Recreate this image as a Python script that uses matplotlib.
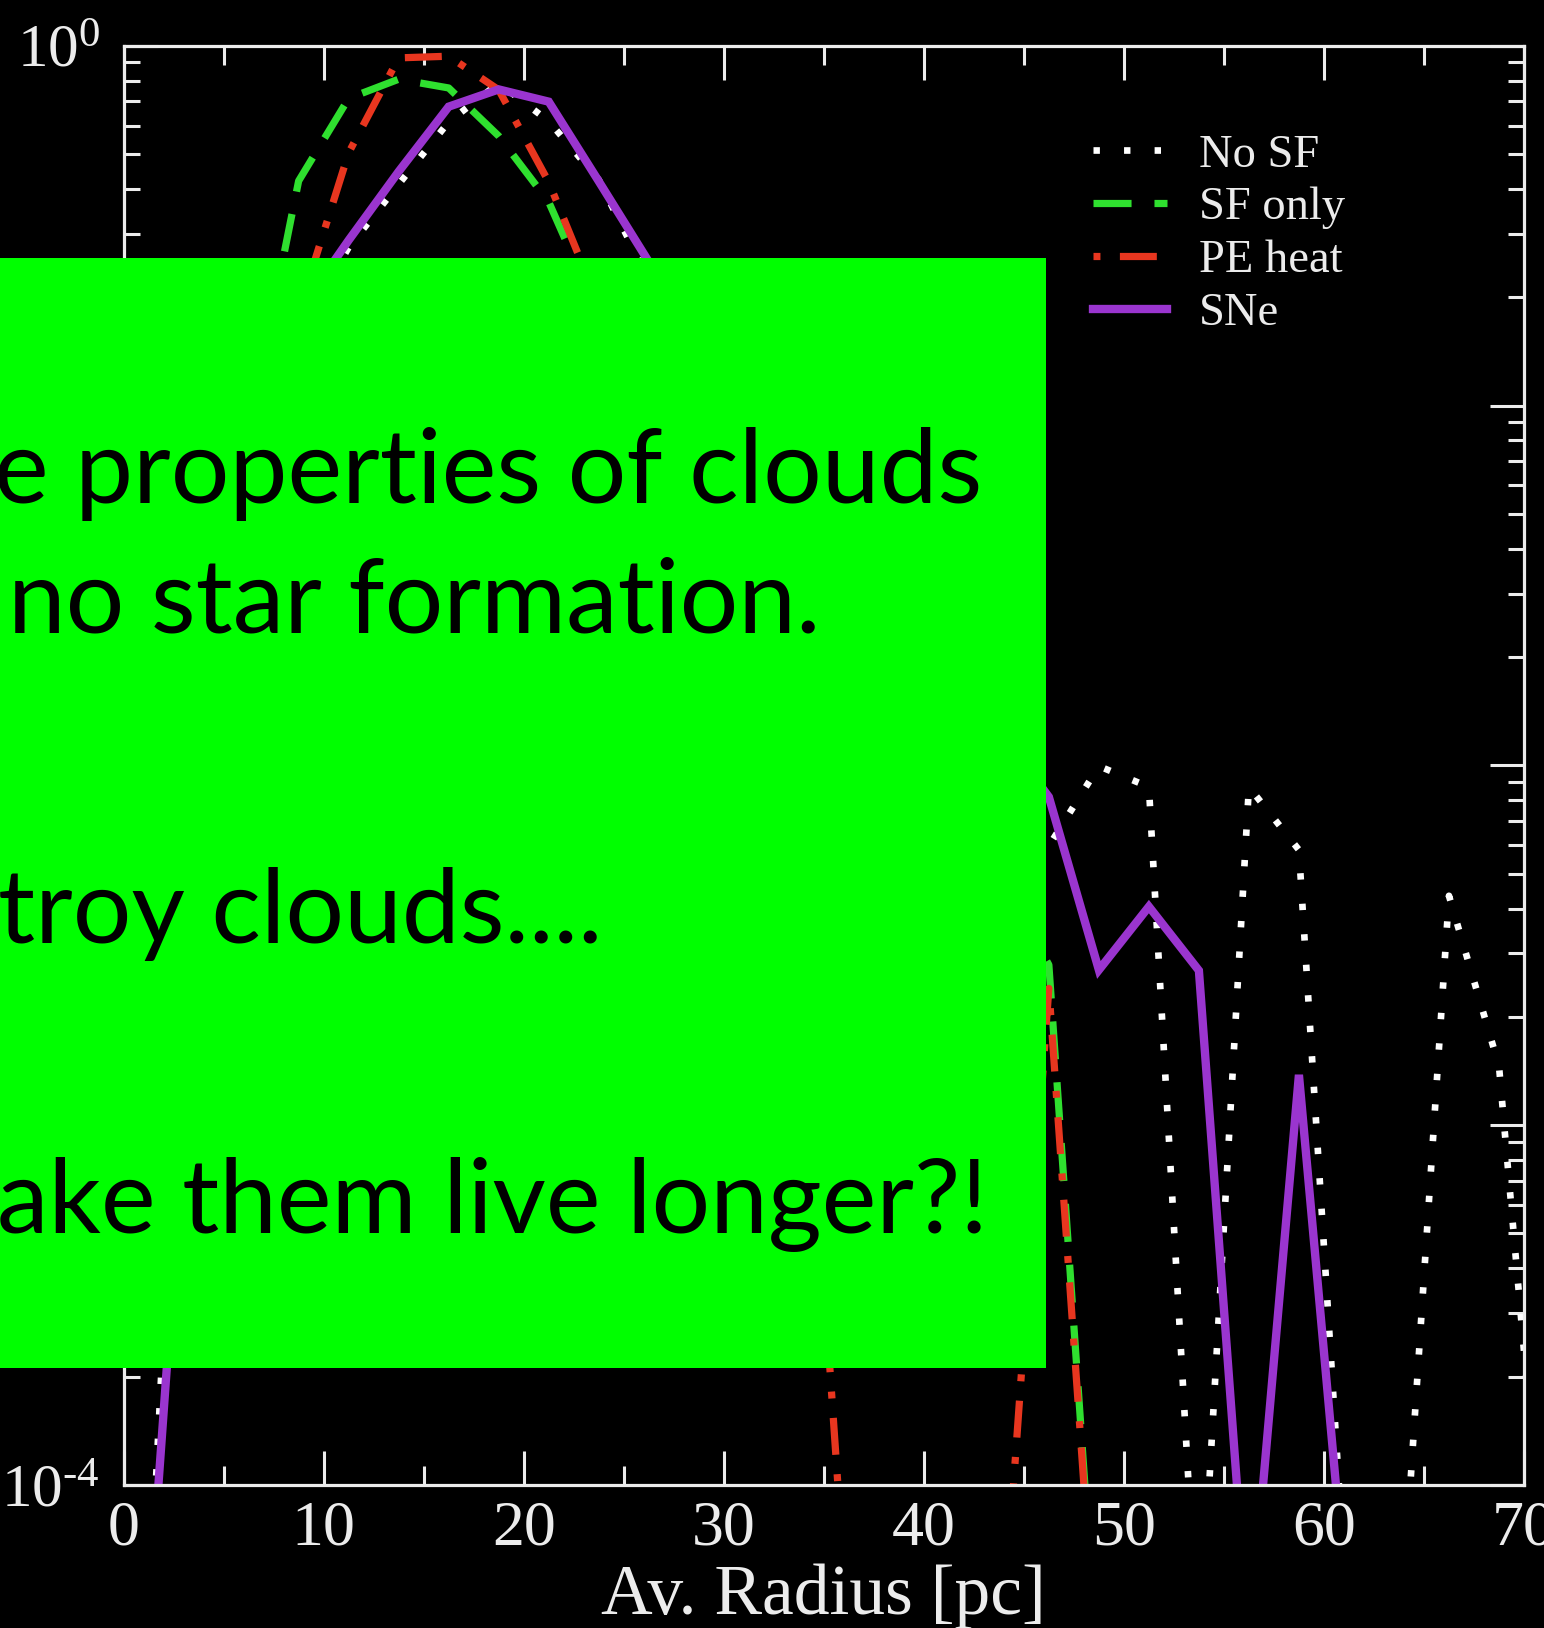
import matplotlib
matplotlib.use("Agg")
import matplotlib.pyplot as plt
from matplotlib.patches import Rectangle
from matplotlib.ticker import (MultipleLocator, LogLocator, NullFormatter, FuncFormatter)
import math

plt.rcParams["font.family"] = ["Liberation Serif", "DejaVu Serif"]
plt.rcParams["mathtext.fontset"] = "custom"
plt.rcParams["mathtext.rm"] = "Liberation Serif"
plt.rcParams["lines.scale_dashes"] = False

# Bin centres of the cloud radius histogram [pc]
radius = [1.25, 3.75, 6.25, 8.75, 11.25, 13.75, 16.25, 18.75, 21.25, 23.75,
          26.25, 28.75, 31.25, 33.75, 36.25, 38.75, 41.25, 43.75, 46.25, 48.75,
          51.25, 53.75, 56.25, 58.75, 61.25, 63.75, 66.25, 68.75, 71.25]

# Fraction of clouds per radius bin for each run
no_sf = [4.0e-5, 0.025, 0.0631, 0.158, 0.275, 0.412, 0.614, 0.787, 0.617, 0.424,
         0.224, 0.126, 0.0631, 0.0398, 0.0251, 0.0158, 0.010, 0.00794, 0.00597, 0.00995,
         0.00871, 3.16e-5, 0.00871, 0.00582, 3.63e-5, 3.31e-5, 0.00434, 0.00146, 3.8e-5]

sf_only_radius = radius[2:20]
sf_only = [0.0851, 0.421, 0.714, 0.807, 0.763, 0.561, 0.368, 0.178, 0.126,
           0.0631, 0.0398, 0.0251, 0.0158, 0.010, 0.00631, 0.00501, 0.00279, 2.75e-5]

pe_heat_radius = radius[2:20]
pe_heat = [0.0398, 0.182, 0.504, 0.925, 0.935, 0.754, 0.418, 0.191, 0.100,
           0.0398, 0.0158, 0.0038, 3.63e-5, 3.16e-5, 3.16e-5, 2.69e-5, 0.0024, 2.57e-5]

sne_radius = radius[:28]
sne = [4.17e-5, 0.00363, 0.0316, 0.182, 0.288, 0.447, 0.677, 0.756, 0.699, 0.420,
       0.251, 0.126, 0.0631, 0.0398, 0.0251, 0.0158, 0.0158, 0.0126, 0.00817, 0.00270,
       0.00405, 0.00269, 3.55e-5, 0.00138, 3.98e-5, 3.16e-5, 3.16e-5, 3.16e-5]

fg = "#ececec"

fig = plt.figure(figsize=(15.44, 16.28), dpi=100, facecolor="black")
ax = fig.add_axes([0.08005, 0.08784, 0.90699, 0.88409])
ax.set_facecolor("black")

ax.plot(radius, no_sf, color="white", lw=4.8, linestyle=(0, (4.6, 17.4)),
        dash_capstyle="butt", label="No SF")
ax.plot(sf_only_radius, sf_only, color="#2fe02f", lw=5.2, linestyle=(0, (27.4, 16.5)),
        label="SF only")
ax.plot(pe_heat_radius, pe_heat, color="#e8361f", lw=5.2,
        linestyle=(0, (5.0, 14.0, 26.6, 14.0)), label="PE heat")
ax.plot(sne_radius, sne, color="#9a35cf", lw=6.0, solid_joinstyle="miter", label="SNe")

ax.set_yscale("log")
ax.set_xlim(0, 70)
ax.set_ylim(1e-4, 1e0)
ax.xaxis.set_major_locator(MultipleLocator(10))
ax.xaxis.set_minor_locator(MultipleLocator(5))
ax.yaxis.set_major_locator(LogLocator(base=10, numticks=10))
ax.yaxis.set_minor_locator(LogLocator(base=10, subs=range(2, 10), numticks=20))


# Only the end decades get a label (the ones in between sit under the caption box);
# the exponent sign is drawn as a short hyphen
def end_decades(value, pos):
    if value <= 1.0001e-4 or value >= 0.9999:
        e = int(round(math.log10(value)))
        sign = "\u2010" if e < 0 else ""
        return r"$\mathdefault{10^{%s%d}}$" % (sign, abs(e))
    return ""


ax.yaxis.set_major_formatter(FuncFormatter(end_decades))
ax.yaxis.set_minor_formatter(NullFormatter())

for s in ax.spines.values():
    s.set_color(fg)
    s.set_linewidth(2.3)

ax.tick_params(which="both", direction="in", top=True, right=True,
               color=fg, labelcolor=fg, width=2.2)
ax.tick_params(axis="x", which="major", length=24.5, labelsize=46, pad=11)
ax.tick_params(axis="x", which="minor", length=14)
ax.tick_params(axis="y", which="major", length=24.5, labelsize=44, pad=17)
ax.tick_params(axis="y", which="minor", length=11.5)

ax.set_xlabel("Av. Radius [pc]", fontsize=51.5, color=fg, labelpad=4)

leg = ax.legend(loc="upper left", bbox_to_anchor=(1093 / 1544, (1628 - 134) / 1628),
                bbox_transform=fig.transFigure, frameon=False, fontsize=33.5,
                handlelength=1.6, handletextpad=0.68, labelspacing=0.22,
                borderpad=0, borderaxespad=0)
for t in leg.get_texts():
    t.set_color(fg)

# Slide overlay box with its caption lines
fig.add_artist(Rectangle((0, 0.1594), 0.6772, 0.6824, transform=fig.transFigure,
                         facecolor="#00ff00", edgecolor="none", zorder=10))
lines = ["e properties of clouds", "no star formation.", "troy clouds....",
         "ake them live longer?!"]
right_px = [982, 820, 602, 988]
base_px = [503, 633, 943, 1233]
for s, xr, yb in zip(lines, right_px, base_px):
    fig.text(xr / 1544, (1628 - yb) / 1628, s, family="Lato", fontsize=74.5,
             color="black", ha="right", va="baseline", zorder=11)

fig.savefig("out.png", dpi=100, facecolor="black")
